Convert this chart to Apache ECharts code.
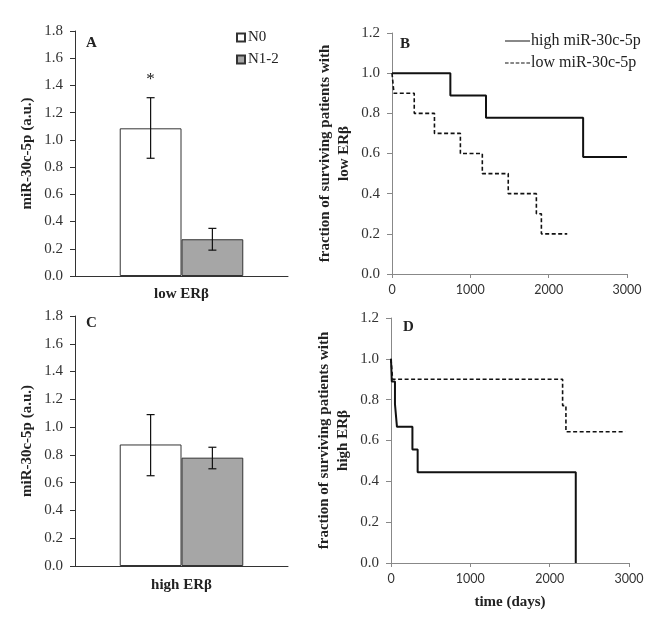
<!DOCTYPE html>
<html>
<head>
<meta charset="utf-8">
<script src="https://cdn.jsdelivr.net/npm/echarts@6/dist/echarts.min.js"></script>
<style>html,body{margin:0;padding:0;background:#fff}#main{width:662px;height:623px}</style>
</head>
<body>
<div id="main"></div>
<script>
// ---- Bar panels (A: low ERβ, C: high ERβ) ----
const groupNames = ['N0', 'N1-2'];
const topBarCategory = ['low ERβ'];
const bottomBarCategory = ['high ERβ'];
const lowErbMean = [1.085, 0.27];
const lowErbErrLow = [0.865, 0.19];
const lowErbErrHigh = [1.31, 0.35];
const lowErbSig = ['*', ''];
const highErbMean = [0.875, 0.78];
const highErbErrLow = [0.65, 0.70];
const highErbErrHigh = [1.09, 0.855];
const highErbSig = ['', ''];
const barTicks = [0, 0.2, 0.4, 0.6, 0.8, 1.0, 1.2, 1.4, 1.6, 1.8];

// ---- Survival panels (B: low ERβ, D: high ERβ) ----
const survNames = ['high miR-30c-5p', 'low miR-30c-5p'];
const survLowErbHighMiR = [[0, 1.0], [745, 0.889], [1200, 0.778], [2440, 0.583], [3000, 0.583]];
const survLowErbLowMiR = [[0, 1.0], [25, 0.9], [284, 0.8], [542, 0.7], [873, 0.6], [1153, 0.5], [1484, 0.4], [1843, 0.3], [1907, 0.2], [2237, 0.2]];
const survHighErbHighMiR = [[0, 1.0], [10, 0.889], [50, 0.778], [75, 0.667], [270, 0.556], [336, 0.444], [2329, 0.0]];
const survHighErbLowMiR = [[0, 1.0], [20, 0.9], [2163, 0.771], [2205, 0.643], [2952, 0.643]];
const timeTicks = [0, 1000, 2000, 3000];
const fracTicks = [0, 0.2, 0.4, 0.6, 0.8, 1.0, 1.2];

const FONT = 'Liberation Serif';
const TICK_SANS = 'Lato';
const BAR_FRAC = 0.29;
const barColors = ['#ffffff', '#a6a6a6'];
const LEGEND_SOLID = 'path://M0,0H25V1H0Z';
const LEGEND_DASH = 'path://M0,0H3.6V1H0Z M5.35,0H8.95V1H5.35Z M10.7,0H14.3V1H10.7Z M16.05,0H19.65V1H16.05Z M21.4,0H25V1H21.4Z';

function barAxisX(gridIndex, cats, margin) {
  return {
    type: 'category', gridIndex, data: cats,
    axisLine: {lineStyle: {color: '#333', width: 1}},
    axisTick: {show: false},
    axisLabel: {fontFamily: FONT, fontWeight: 'bold', fontSize: 15, color: '#222', margin}
  };
}
function barAxisY(gridIndex) {
  return {
    type: 'value', gridIndex, min: 0, max: barTicks[barTicks.length - 1], interval: 0.2,
    name: 'miR-30c-5p (a.u.)', nameLocation: 'middle', nameGap: 40,
    nameTextStyle: {fontFamily: FONT, fontWeight: 'bold', fontSize: 15, color: '#222'},
    axisLine: {show: true, lineStyle: {color: '#333', width: 1}},
    axisTick: {show: true, length: 5, lineStyle: {color: '#333'}},
    splitLine: {show: false},
    axisLabel: {fontFamily: FONT, fontSize: 15, color: '#333', margin: 12, formatter: v => v.toFixed(1)}
  };
}
function survAxisX(gridIndex, withName) {
  return {
    type: 'value', gridIndex, min: 0, max: timeTicks[timeTicks.length - 1], interval: 1000,
    name: withName ? 'time (days)' : '', nameLocation: 'middle', nameGap: 32,
    nameTextStyle: {fontFamily: FONT, fontWeight: 'bold', fontSize: 15, color: '#222'},
    axisLine: {lineStyle: {color: '#888', width: 1}},
    axisTick: {show: true, length: 4, lineStyle: {color: '#888'}},
    splitLine: {show: false},
    axisLabel: {fontFamily: TICK_SANS, fontSize: 12.5, color: '#333', margin: 9, formatter: v => String(v)}
  };
}
function survAxisY(gridIndex, label) {
  return {
    type: 'value', gridIndex, min: 0, max: fracTicks[fracTicks.length - 1], interval: 0.2,
    name: 'fraction of surviving patients with\n' + label, nameLocation: 'middle', nameGap: 38,
    nameTextStyle: {fontFamily: FONT, fontWeight: 'bold', fontSize: 15, color: '#222', lineHeight: 19},
    axisLine: {show: true, lineStyle: {color: '#888', width: 1}},
    axisTick: {show: true, length: 5, lineStyle: {color: '#888'}},
    splitLine: {show: false},
    axisLabel: {fontFamily: FONT, fontSize: 15, color: '#333', margin: 12, formatter: v => v.toFixed(1)}
  };
}
function barSeries(axisIdx, means) {
  return groupNames.map((g, i) => ({
    type: 'bar', name: g, xAxisIndex: axisIdx, yAxisIndex: axisIdx,
    data: [means[i]], barWidth: (BAR_FRAC * 100) + '%', barGap: '0%',
    itemStyle: {color: barColors[i], borderColor: '#333', borderWidth: 1},
    z: 2
  }));
}
function errorSeries(axisIdx, lo, hi, sig) {
  return {
    type: 'custom', xAxisIndex: axisIdx, yAxisIndex: axisIdx, z: 5,
    data: groupNames.map((g, i) => [0, lo[i], hi[i], i]),
    renderItem: function (params, api) {
      const gi = api.value(3);
      const bw = api.size([1, 0])[0] * BAR_FRAC;
      const base = api.coord([api.value(0), api.value(1)]);
      const top = api.coord([api.value(0), api.value(2)]);
      const cx = base[0] + (gi - 0.5) * bw;
      const cap = 4;
      const st = {stroke: '#111', lineWidth: 1.2};
      const children = [
        {type: 'line', shape: {x1: cx, y1: base[1], x2: cx, y2: top[1]}, style: st},
        {type: 'line', shape: {x1: cx - cap, y1: base[1], x2: cx + cap, y2: base[1]}, style: st},
        {type: 'line', shape: {x1: cx - cap, y1: top[1], x2: cx + cap, y2: top[1]}, style: st}
      ];
      const s = sig[params.dataIndex];
      if (s) {
        children.push({type: 'text', style: {text: s, x: cx, y: top[1] - 18, align: 'center', verticalAlign: 'middle',
          font: '17px "' + FONT + '"', fill: '#222'}});
      }
      return {type: 'group', children};
    }
  };
}
function survSeries(axisIdx, data, idx) {
  return {
    type: 'line', name: survNames[idx], xAxisIndex: axisIdx, yAxisIndex: axisIdx,
    data, step: 'end', symbol: 'none', showSymbol: false,
    lineStyle: idx === 0 ? {color: '#111', width: 2, type: 'solid'} : {color: '#111', width: 1.6, type: [4, 2.5]},
    itemStyle: {color: '#111'}, z: 3
  };
}

const panelTitle = (t, left, top) => ({text: t, left, top, padding: 0,
  textStyle: {fontFamily: FONT, fontWeight: 'bold', fontSize: 15, color: '#222'}});

const option = {
  animation: false,
  textStyle: {fontFamily: FONT},
  title: [panelTitle('A', 86, 36), panelTitle('B', 400, 37), panelTitle('C', 86, 316), panelTitle('D', 403, 320)],
  legend: [
    {data: groupNames, orient: 'vertical', left: 236, top: 30, padding: 0, itemWidth: 8, itemHeight: 8, itemGap: 7,
     icon: 'rect', textStyle: {fontFamily: FONT, fontSize: 15, color: '#222', padding: [0, 0, 0, -2]}},
    {data: [{name: survNames[0], icon: LEGEND_SOLID}, {name: survNames[1], icon: LEGEND_DASH}],
     orient: 'vertical', left: 505, top: 33, padding: 0, itemWidth: 25, itemHeight: 2, itemGap: 6,
     textStyle: {fontFamily: FONT, fontSize: 16, color: '#222', padding: [0, 0, 0, -4]}}
  ],
  grid: [
    {left: 75, top: 31, width: 213, height: 245},
    {left: 392, top: 33, width: 235, height: 241},
    {left: 75, top: 316, width: 213, height: 250},
    {left: 391, top: 318, width: 238, height: 245}
  ],
  xAxis: [barAxisX(0, topBarCategory, 11), survAxisX(1, false), barAxisX(2, bottomBarCategory, 12), survAxisX(3, true)],
  yAxis: [barAxisY(0), survAxisY(1, 'low ERβ'), barAxisY(2), survAxisY(3, 'high ERβ')],
  series: [
    ...barSeries(0, lowErbMean),
    errorSeries(0, lowErbErrLow, lowErbErrHigh, lowErbSig),
    survSeries(1, survLowErbHighMiR, 0),
    survSeries(1, survLowErbLowMiR, 1),
    ...barSeries(2, highErbMean),
    errorSeries(2, highErbErrLow, highErbErrHigh, highErbSig),
    survSeries(3, survHighErbHighMiR, 0),
    survSeries(3, survHighErbLowMiR, 1)
  ]
};
const chart = echarts.init(document.getElementById('main'), null, {renderer: 'canvas'});
chart.setOption(option);
</script>
</body>
</html>
